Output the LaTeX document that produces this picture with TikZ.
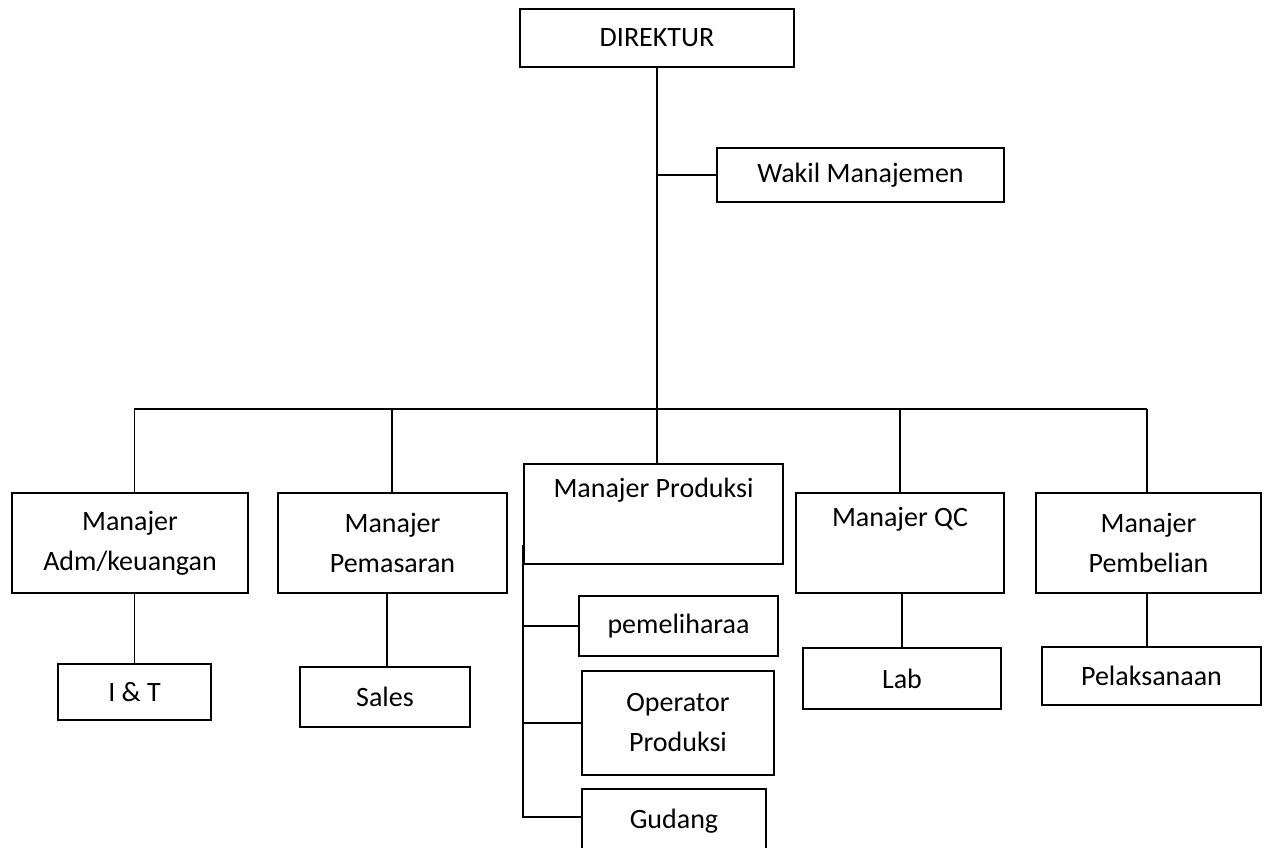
\documentclass[tikz,border=0pt]{standalone}
\usepackage{fontspec}
\setmainfont{Carlito}
\begin{document}
\begin{tikzpicture}[x=1pt,y=-1pt,
  box/.style={draw,line width=1.9pt,rectangle,inner sep=0pt,align=center,
    font=\fontsize{28}{40}\selectfont},
  conn/.style={line width=1.9pt}]
\useasboundingbox (0,0) rectangle (1264,847);
\clip (0,0) rectangle (1264,847);
\fill[white] (0,0) rectangle (1264,847);
% top
\node[box,minimum width=274pt,minimum height=58pt] (dir) at (657,38) {DIREKTUR};
\node[box,minimum width=287pt,minimum height=54pt] (wak) at (860.5,175) {Wakil Manajemen};
% managers
\node[box,minimum width=236pt,minimum height=100pt] (adm) at (130,543) {Manajer\\Adm/keuangan};
\node[box,minimum width=229pt,minimum height=100pt] (pem) at (392.5,543) {Manajer\\Pemasaran};
\node[box,minimum width=259pt,minimum height=100pt] (prod) at (653.5,514) {Manajer Produksi\\\strut};
\node[box,minimum width=208pt,minimum height=100pt] (qc) at (900,543) {Manajer QC\\\strut};
\node[box,minimum width=225pt,minimum height=100pt] (pemb) at (1148.5,543) {Manajer\\Pembelian};
% subordinates
\node[box,minimum width=153pt,minimum height=56pt] (it) at (134.5,692) {I \& T};
\node[box,minimum width=170pt,minimum height=60pt] (sales) at (385,697) {Sales};
\node[box,minimum width=198pt,minimum height=61pt] (lab) at (902,678.5) {Lab};
\node[box,minimum width=219pt,minimum height=58pt] (pel) at (1151.5,676) {Pelaksanaan};
\node[box,minimum width=199pt,minimum height=60pt] (pml) at (678.5,626) {pemeliharaa};
\node[box,minimum width=192pt,minimum height=104pt] (op) at (678,723) {Operator\\Produksi};
\node[box,minimum width=184pt,minimum height=64pt] (gud) at (674,821) {Gudang};
% connectors
\coordinate (bus) at (0,409);
\coordinate (pl) at (523,545);
\draw[conn] (dir.south) -- (dir.south |- prod.north);
\draw[conn] (dir.south |- wak.west) -- (wak.west);
\draw[conn] (134,409) -- (1147,409);
\draw[conn] (it.north |- bus) -- (it.north |- adm.north);
\draw[conn] (392,409) -- (392,493);
\draw[conn] (qc.north |- bus) -- (qc.north);
\draw[conn] (1147,409) -- (1147,493);
\draw[conn] (it.north) -- (it.north |- adm.south);
\draw[conn] (387,593) -- (387,667);
\draw[conn] (lab.north |- qc.south) -- (lab.north);
\draw[conn] (1147,593) -- (1147,647);
\draw[conn] (pl) |- ([yshift=4pt]gud.west);
\draw[conn] (pl |- pml.west) -- (pml.west);
\draw[conn] (pl |- op.west) -- (op.west);
\end{tikzpicture}
\end{document}
